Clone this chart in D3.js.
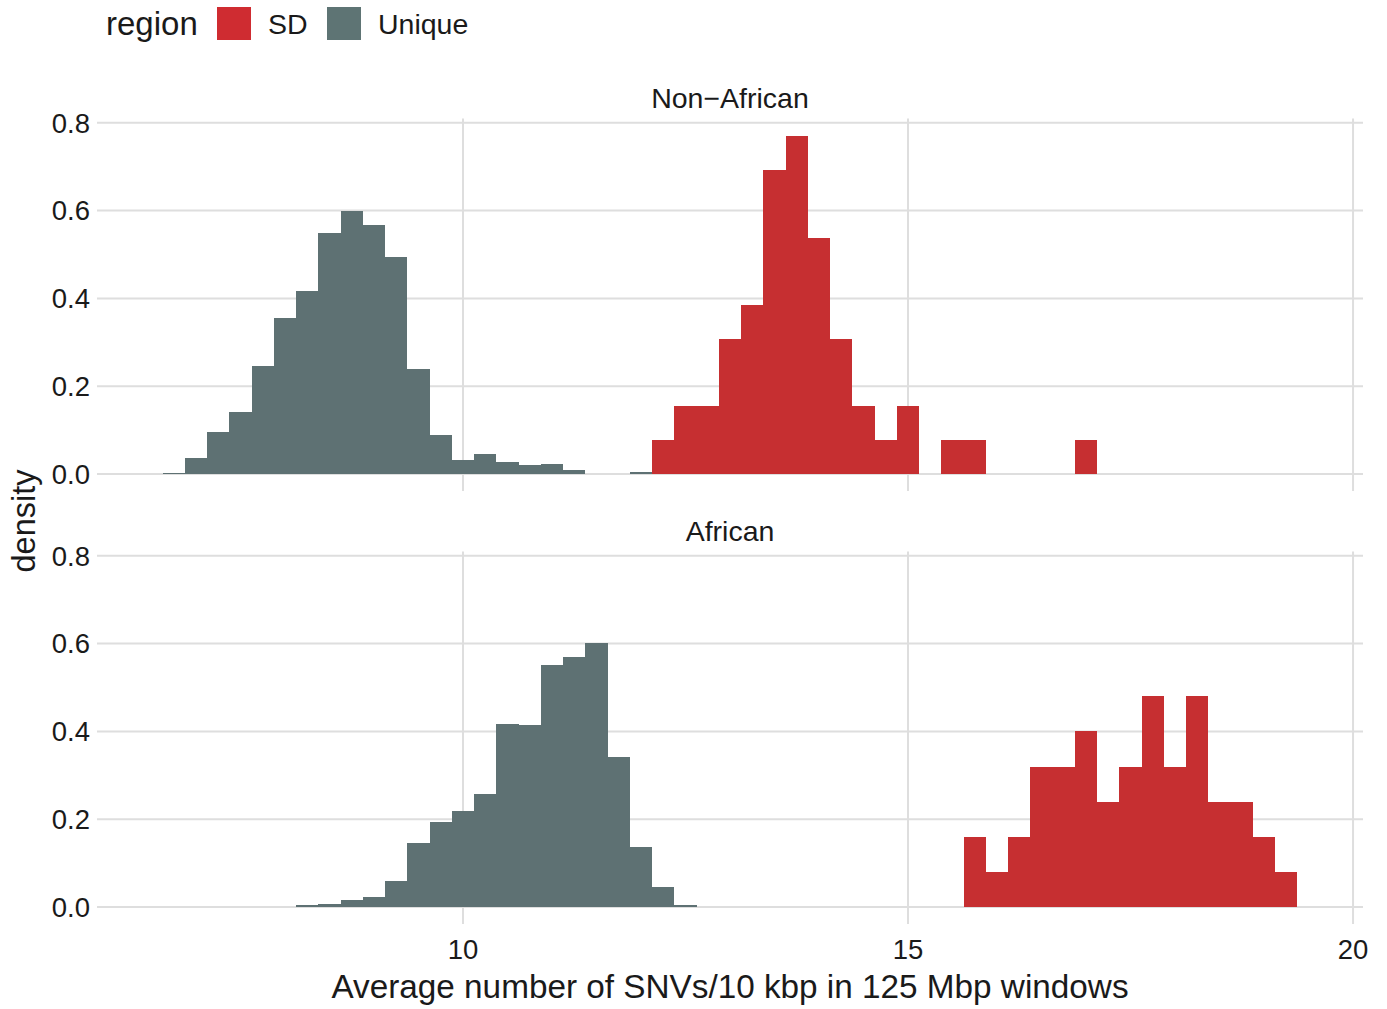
<!DOCTYPE html>
<html>
<head>
<meta charset="utf-8">
<script src="https://cdn.jsdelivr.net/npm/d3@7"></script>
<style>
  html, body { margin: 0; padding: 0; background: #ffffff; }
  svg { display: block; font-family: "Liberation Sans", Arial, Helvetica, sans-serif; }
</style>
</head>
<body>
<svg id="chart" width="1387" height="1009"></svg>
<script>
// ---------------- data ----------------
const binWidth = 0.25;
const regions = ["SD", "Unique"];
const panels = ["Non\u2212African", "African"];
const xTicks = [10, 15, 20];
const yTicks = [0.0, 0.2, 0.4, 0.6, 0.8];

// Non-African, Unique (bin centers and densities)
const nonAfricanUniqueBins = [6.75, 7.0, 7.25, 7.5, 7.75, 8.0, 8.25, 8.5, 8.75, 9.0, 9.25, 9.5, 9.75, 10.0, 10.25, 10.5, 10.75, 11.0, 11.25, 11.5, 11.75, 12.0];
const nonAfricanUniqueDensity = [0.003, 0.036, 0.095, 0.142, 0.246, 0.356, 0.417, 0.549, 0.600, 0.568, 0.494, 0.239, 0.089, 0.032, 0.045, 0.027, 0.020, 0.024, 0.009, 0, 0, 0.004];

// Non-African, SD
const nonAfricanSDBins = [12.25, 12.5, 12.75, 13.0, 13.25, 13.5, 13.75, 14.0, 14.25, 14.5, 14.75, 15.0, 15.25, 15.5, 15.75, 16.0, 16.25, 16.5, 16.75, 17.0];
const nonAfricanSDDensity = [0.077, 0.154, 0.154, 0.308, 0.385, 0.692, 0.769, 0.538, 0.308, 0.154, 0.077, 0.154, 0, 0.077, 0.077, 0, 0, 0, 0, 0.077];

// African, Unique
const africanUniqueBins = [8.25, 8.5, 8.75, 9.0, 9.25, 9.5, 9.75, 10.0, 10.25, 10.5, 10.75, 11.0, 11.25, 11.5, 11.75, 12.0, 12.25, 12.5];
const africanUniqueDensity = [0.004, 0.008, 0.017, 0.022, 0.060, 0.145, 0.194, 0.219, 0.257, 0.416, 0.414, 0.552, 0.569, 0.602, 0.342, 0.136, 0.046, 0.004];

// African, SD
const africanSDBins = [15.75, 16.0, 16.25, 16.5, 16.75, 17.0, 17.25, 17.5, 17.75, 18.0, 18.25, 18.5, 18.75, 19.0, 19.25];
const africanSDDensity = [0.16, 0.08, 0.16, 0.32, 0.32, 0.40, 0.24, 0.32, 0.48, 0.32, 0.48, 0.24, 0.24, 0.16, 0.08];

// ---------------- styling ----------------
const barColor = { "SD": "#c62f31", "Unique": "#5e7173" };
const keyColor = { "SD": "#cf2c31", "Unique": "#5e7474" };
const gridColor = "#dedede";
const textColor = "#1a1a1a";

const svg = d3.select("#chart");

const panelLeft = 97, panelRight = 1363;
const panelTops = [118.5, 551.5];
const panelH = 372.5;

const x = d3.scaleLinear().domain([5.888, 20.112]).range([panelLeft, panelRight]);
const yDomain = [-0.0386, 0.8096];

const series = [
  [ { region: "Unique", bins: nonAfricanUniqueBins, dens: nonAfricanUniqueDensity },
    { region: "SD", bins: nonAfricanSDBins, dens: nonAfricanSDDensity } ],
  [ { region: "Unique", bins: africanUniqueBins, dens: africanUniqueDensity },
    { region: "SD", bins: africanSDBins, dens: africanSDDensity } ]
];

panels.forEach((name, pi) => {
  const top = panelTops[pi];
  const y = d3.scaleLinear().domain(yDomain).range([top + panelH, top]);
  const g = svg.append("g");

  // grid lines
  g.selectAll("line.hgrid").data(yTicks).join("line")
    .attr("x1", panelLeft).attr("x2", panelRight)
    .attr("y1", d => y(d)).attr("y2", d => y(d))
    .attr("stroke", gridColor).attr("stroke-width", 2);
  g.selectAll("line.vgrid").data(xTicks).join("line")
    .attr("x1", d => x(d)).attr("x2", d => x(d))
    .attr("y1", top).attr("y2", top + panelH)
    .attr("stroke", gridColor).attr("stroke-width", 2);

  // bars
  series[pi].forEach(s => {
    const rows = s.bins.map((b, i) => ({ b, v: s.dens[i] })).filter(d => d.v > 0);
    g.selectAll(null).data(rows).join("rect")
      .attr("x", d => x(d.b - binWidth / 2))
      .attr("width", d => x(d.b + binWidth / 2) - x(d.b - binWidth / 2))
      .attr("y", d => y(d.v))
      .attr("height", d => y(0) - y(d.v))
      .attr("fill", barColor[s.region])
      .attr("shape-rendering", "crispEdges");
  });

  // y tick labels
  g.selectAll("text.ytick").data(yTicks).join("text")
    .attr("x", 90).attr("y", d => y(d))
    .attr("dy", "0.36em")
    .attr("text-anchor", "end")
    .attr("font-size", 27.5)
    .attr("fill", textColor)
    .text(d => d3.format(".1f")(d));

  // strip label
  g.append("text")
    .attr("x", (panelLeft + panelRight) / 2)
    .attr("y", top - 11)
    .attr("text-anchor", "middle")
    .attr("font-size", 28.5)
    .attr("fill", textColor)
    .text(name);

  // x tick labels on bottom panel
  if (pi === panels.length - 1) {
    g.selectAll("text.xtick").data(xTicks).join("text")
      .attr("x", d => x(d)).attr("y", top + panelH + 35)
      .attr("text-anchor", "middle")
      .attr("font-size", 27.5)
      .attr("fill", textColor)
      .text(d => d);
  }
});

// axis titles
svg.append("text")
  .attr("x", (panelLeft + panelRight) / 2)
  .attr("y", 998)
  .attr("text-anchor", "middle")
  .attr("font-size", 33.3)
  .attr("fill", textColor)
  .text("Average number of SNVs/10 kbp in 125 Mbp windows");

svg.append("text")
  .attr("transform", "translate(35,521) rotate(-90)")
  .attr("text-anchor", "middle")
  .attr("font-size", 32.5)
  .attr("fill", textColor)
  .text("density");

// legend
const leg = svg.append("g");
leg.append("text").attr("x", 106).attr("y", 35)
  .attr("font-size", 33).attr("fill", textColor).text("region");
const keyX = [217, 327];
regions.forEach((r, i) => {
  leg.append("rect").attr("x", keyX[i]).attr("y", 7).attr("width", 34).attr("height", 33)
    .attr("fill", keyColor[r]);
  leg.append("text").attr("x", keyX[i] + 51).attr("y", 34)
    .attr("font-size", 28.5).attr("fill", textColor).text(r);
});
</script>
</body>
</html>
